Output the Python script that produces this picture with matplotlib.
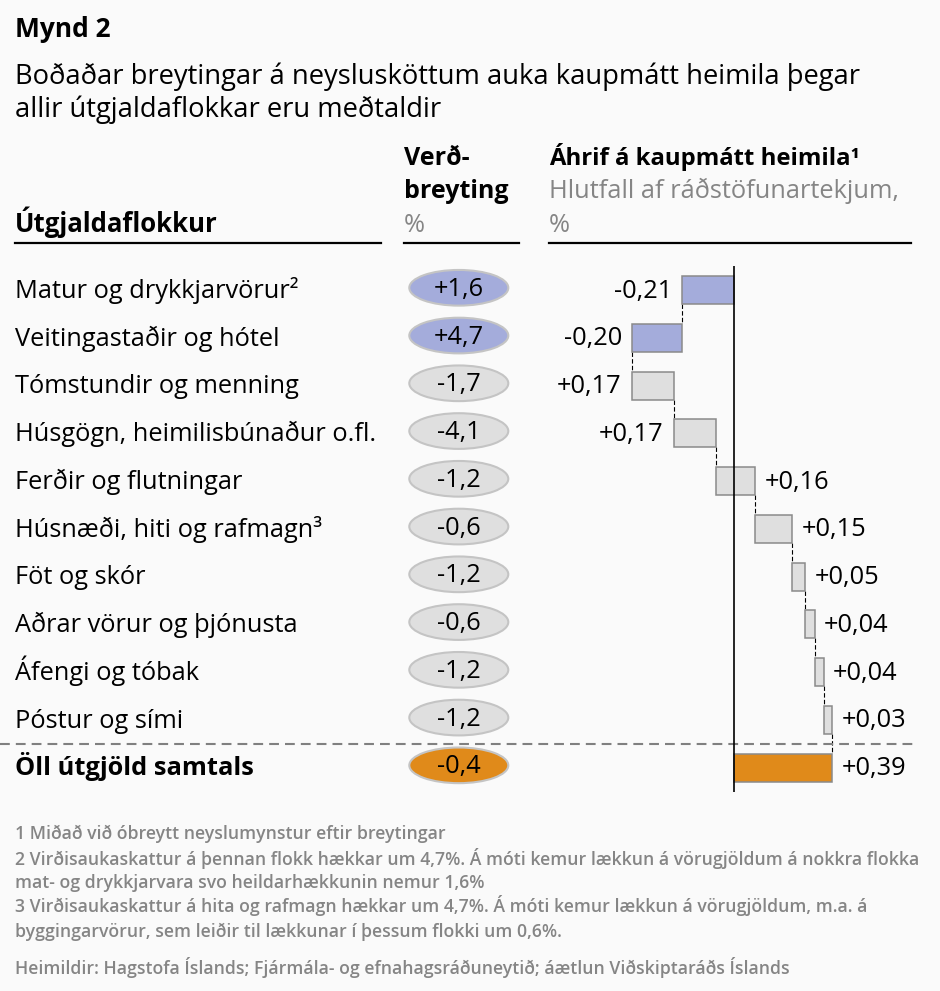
import matplotlib
matplotlib.use("Agg")
import matplotlib.pyplot as plt
import matplotlib.transforms as mtransforms
from matplotlib.patches import Ellipse

plt.rcParams["font.family"] = ["Open Sans", "DejaVu Sans"]

# data
categories = [
    "Matur og drykkjarvörur²",
    "Veitingastaðir og hótel",
    "Tómstundir og menning",
    "Húsgögn, heimilisbúnaður o.fl.",
    "Ferðir og flutningar",
    "Húsnæði, hiti og rafmagn³",
    "Föt og skór",
    "Aðrar vörur og þjónusta",
    "Áfengi og tóbak",
    "Póstur og sími",
]
total_label = "Öll útgjöld samtals"
price_change = [1.6, 4.7, -1.7, -4.1, -1.2, -0.6, -1.2, -0.6, -1.2, -1.2]
total_price_change = -0.4
effect = [-0.21, -0.20, 0.168, 0.168, 0.157, 0.148, 0.052, 0.039, 0.036, 0.033]

footnotes = [
    "1 Miðað við óbreytt neyslumynstur eftir breytingar",
    "2 Virðisaukaskattur á þennan flokk hækkar um 4,7%. Á móti kemur lækkun á vörugjöldum á nokkra flokka",
    "mat- og drykkjarvara svo heildarhækkunin nemur 1,6%",
    "3 Virðisaukaskattur á hita og rafmagn hækkar um 4,7%. Á móti kemur lækkun á vörugjöldum, m.a. á",
    "byggingarvörur, sem leiðir til lækkunar í þessum flokki um 0,6%.",
]
source = "Heimildir: Hagstofa Íslands; Fjármála- og efnahagsráðuneytið; áætlun Viðskiptaráðs Íslands"

BLUE = "#a4acdb"
GREY = "#dfdfdf"
ORANGE = "#e08a1a"
TXT_GREY = "#858585"
FS = 18.3

W, H = 940, 991
fig = plt.figure(figsize=(W / 100, H / 100), dpi=100, facecolor="#fafafa")


def fy(px):
    return 1 - px / H


def fx(px):
    return px / W


n = len(categories)
ax_top, ax_bot = 266.3, 791.6
ax = fig.add_axes([fx(609), fy(ax_bot), 325 / W, (ax_bot - ax_top) / H])
ax.set_xlim(-0.5, 0.8)
ax.set_ylim(n + 0.5, -0.5)
ax.axis("off")

ax_e = fig.add_axes([fx(400), fy(ax_bot), 120 / W, (ax_bot - ax_top) / H])
ax_e.set_xlim(0, 1)
ax_e.set_ylim(n + 0.5, -0.5)
ax_e.axis("off")

# waterfall bars
bh = 0.586
start = 0.0
ends = []
for i, v in enumerate(effect):
    col = BLUE if price_change[i] > 0 else GREY
    ax.barh(i, v, left=start, height=bh, color=col, edgecolor="#8a8a8a", linewidth=1.1, zorder=2)
    end = start + v
    lab = f"{v:+.2f}".replace(".", ",")
    lo, hi = min(start, end), max(start, end)
    if hi <= 0:
        # bar sits left of zero -> label on the left
        ax.annotate(lab, (lo, i), xytext=(-7, -5.4), textcoords="offset points",
                    ha="right", va="baseline", fontsize=FS)
    else:
        ax.annotate(lab, (hi, i), xytext=(7, -5.4), textcoords="offset points",
                    ha="left", va="baseline", fontsize=FS)
    ends.append(end)
    start = end

total = sum(effect)
ax.barh(n, total, left=0, height=bh, color=ORANGE, edgecolor="#8a8a8a", linewidth=1.1, zorder=2)
ax.annotate(f"{total:+.2f}".replace(".", ","), (total, n), xytext=(7, -5.4),
            textcoords="offset points", ha="left", va="baseline", fontsize=FS)

# connectors
for i, e in enumerate(ends):
    ax.plot([e, e], [i + bh / 2, i + 1 - bh / 2], color="black", lw=0.8,
            ls=(0, (4, 2)), zorder=1)

ax.axvline(0, color="black", lw=1.2, zorder=3)

# separator before total row
blend = mtransforms.blended_transform_factory(fig.transFigure, ax.transData)
ax.plot([0, fx(913)], [n - 0.5, n - 0.5], transform=blend, color="#808080",
        lw=1.5, ls=(0, (4.7, 2.9)), clip_on=False, zorder=1)

# row labels
for i, c in enumerate(categories):
    ax.text(fx(15), i + 0.16, c, transform=blend, ha="left", va="baseline", fontsize=FS)
ax.text(fx(15), n + 0.16, total_label, transform=blend, ha="left", va="baseline",
        fontsize=FS, fontweight="bold")

# price change ellipses
all_pc = price_change + [total_price_change]
for i, p in enumerate(all_pc):
    if i == n:
        col = ORANGE
    else:
        col = BLUE if p > 0 else GREY
    ax_e.add_patch(Ellipse((0.49, i - 0.05), 0.825, 0.747, facecolor=col,
                           edgecolor="#c4c4c4", linewidth=1.5))
    ax_e.text(0.49, i + 0.12, f"{p:+.1f}".replace(".", ","), ha="center",
              va="baseline", fontsize=FS)

# titles and headers
fig.text(fx(15), fy(37), "Mynd 2", fontsize=19, fontweight="bold", va="baseline")
fig.text(fx(15), fy(84), "Boðaðar breytingar á neyslusköttum auka kaupmátt heimila þegar",
         fontsize=19.7, va="baseline")
fig.text(fx(15), fy(117), "allir útgjaldaflokkar eru meðtaldir", fontsize=19.7, va="baseline")

fig.text(fx(15), fy(232), "Útgjaldaflokkur", fontsize=18.5, fontweight="bold", va="baseline")
fig.text(fx(404), fy(165), "Verð-", fontsize=18, fontweight="bold", va="baseline")
fig.text(fx(404), fy(198), "breyting", fontsize=18, fontweight="bold", va="baseline")
fig.text(fx(404), fy(232), "%", fontsize=FS, color=TXT_GREY, va="baseline")
fig.text(fx(549), fy(165), "Áhrif á kaupmátt heimila¹", fontsize=17.2, fontweight="bold",
         va="baseline")
fig.text(fx(549), fy(198), "Hlutfall af ráðstöfunartekjum,", fontsize=FS, color=TXT_GREY,
         va="baseline")
fig.text(fx(549), fy(232), "%", fontsize=FS, color=TXT_GREY, va="baseline")

for x0, x1 in [(15, 381), (404, 519), (549, 911)]:
    fig.add_artist(plt.Line2D([fx(x0), fx(x1)], [fy(243), fy(243)], color="black", lw=1.6,
                              transform=fig.transFigure))

# footnotes
for t, b in zip(footnotes, [839, 865, 888, 912, 937]):
    fig.text(fx(15), fy(b), t, fontsize=12.7, color=TXT_GREY, fontweight="semibold",
             va="baseline")
fig.text(fx(15), fy(974), source, fontsize=12.7, color=TXT_GREY, fontweight="semibold",
         va="baseline")

fig.savefig("out.png", dpi=100, facecolor=fig.get_facecolor())
